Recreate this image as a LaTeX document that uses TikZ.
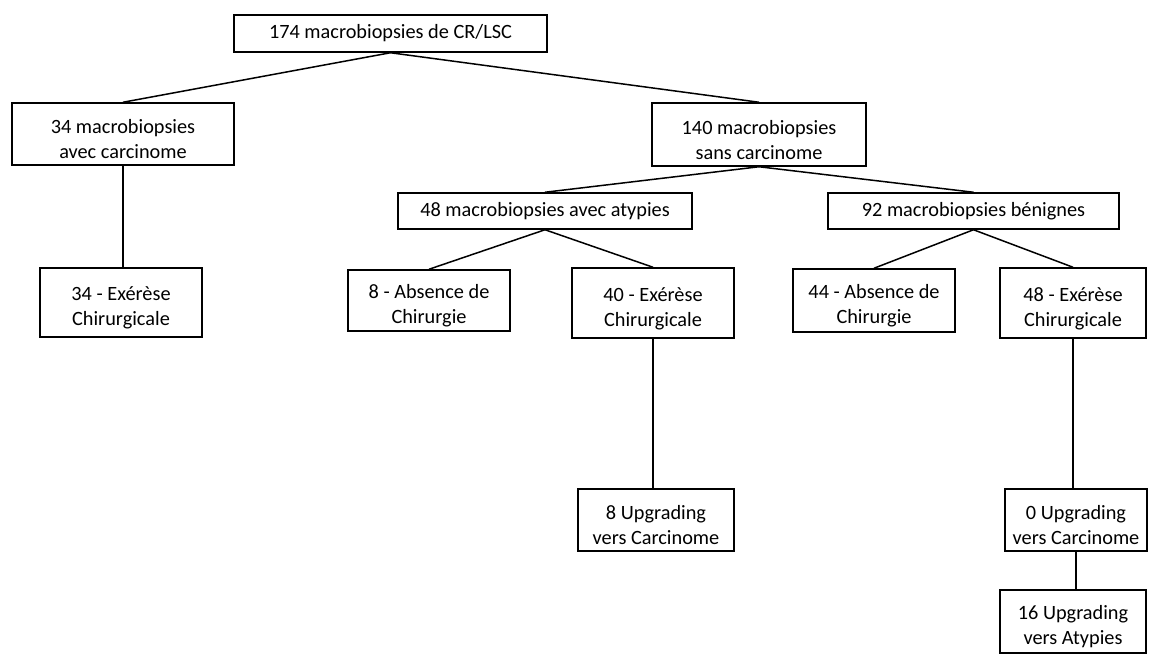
\documentclass[tikz,border=0pt]{standalone}
\usepackage{fontspec}
\setmainfont{Carlito}
\newcommand{\tstrut}{\rule{0pt}{25pt}}
\begin{document}
\begin{tikzpicture}[x=1pt,y=-1pt,
  box/.style={draw=black,line width=1.5pt,fill=white,inner sep=0pt,align=center,
    font=\fontsize{20.3}{25}\selectfont},
  link/.style={draw=black,line width=1.5pt}]
\useasboundingbox (0,0) rectangle (1158,653);
\node[box,minimum width=313pt,minimum height=37pt] (top) at (390.5,33.5) {174 macrobiopsies de CR/LSC};
\node[box,minimum width=222pt,minimum height=62pt] (b34) at (123,134) {\tstrut 34 macrobiopsies\\avec carcinome};
\node[box,minimum width=214pt,minimum height=63pt] (b140) at (759,134.5) {\tstrut 140 macrobiopsies\\sans carcinome};
\node[box,minimum width=294pt,minimum height=36pt] (b48) at (545,211) {48 macrobiopsies avec atypies};
\node[box,minimum width=291pt,minimum height=36pt] (b92) at (973.5,211) {92 macrobiopsies bénignes};
\node[box,minimum width=162pt,minimum height=69pt] (e34) at (121,302.5) {\tstrut 34 - Exérèse\\Chirurgicale};
\node[box,minimum width=162pt,minimum height=61pt] (a8) at (429,300.5) {\tstrut 8 - Absence de\\Chirurgie};
\node[box,minimum width=162pt,minimum height=70pt] (e40) at (653,303) {\tstrut 40 - Exérèse\\Chirurgicale};
\node[box,minimum width=162pt,minimum height=63pt] (a44) at (874,300.5) {\tstrut 44 - Absence de\\Chirurgie};
\node[box,minimum width=146pt,minimum height=70pt] (e48) at (1073,303) {\tstrut 48 - Exérèse\\Chirurgicale};
\node[box,minimum width=156pt,minimum height=62pt] (u8) at (656,520) {\tstrut 8 Upgrading\\vers Carcinome};
\node[box,minimum width=142pt,minimum height=62pt] (u0) at (1076,520) {\tstrut 0 Upgrading\\vers Carcinome};
\node[box,minimum width=146pt,minimum height=63pt] (u16) at (1073,621.5) {\tstrut 16 Upgrading\\vers Atypies};
\draw[link] (top.south) -- (b34.north);
\draw[link] (top.south) -- (b140.north);
\draw[link] (b34.south) -- (b34.south |- e34.north);
\draw[link] (b140.south) -- (b48.north);
\draw[link] (b140.south) -- (b92.north);
\draw[link] (b48.south) -- (a8.north);
\draw[link] (b48.south) -- (e40.north);
\draw[link] (b92.south) -- (a44.north);
\draw[link] (b92.south) -- (e48.north);
\draw[link] (e40.south) -- (e40.south |- u8.north);
\draw[link] (e48.south) -- (e48.south |- u0.north);
\draw[link] (u0.south) -- (u0.south |- u16.north);
\end{tikzpicture}
\end{document}
